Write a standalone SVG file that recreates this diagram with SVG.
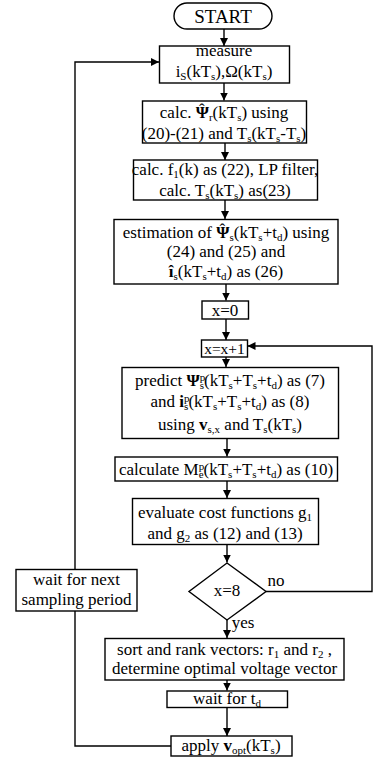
<svg xmlns="http://www.w3.org/2000/svg" width="373" height="762" viewBox="0 0 373 762">
<style>
.box{fill:#fff;stroke:#000;stroke-width:1.4}
.t{font-family:"Liberation Serif","DejaVu Serif",serif;font-size:17px;text-anchor:middle;fill:#000}
.s{font-size:11px}
.b{font-weight:bold}
.ln{fill:none;stroke:#000;stroke-width:1.4}
</style>
<defs>
<marker id="ah" viewBox="0 0 10 10" refX="10" refY="5" markerWidth="8" markerHeight="8" markerUnits="userSpaceOnUse" orient="auto">
<path d="M0,0 L10,5 L0,10 z" fill="#000"/>
</marker>
</defs>
<rect width="373" height="762" fill="#fff"/>
<g id="connectors">
<line class="ln" x1="224" y1="29" x2="224" y2="46" marker-end="url(#ah)"/>
<line class="ln" x1="224" y1="83" x2="224" y2="100.5" marker-end="url(#ah)"/>
<line class="ln" x1="225" y1="143" x2="225" y2="160" marker-end="url(#ah)"/>
<line class="ln" x1="225" y1="200" x2="225" y2="219" marker-end="url(#ah)"/>
<line class="ln" x1="226" y1="284" x2="226" y2="300.5" marker-end="url(#ah)"/>
<line class="ln" x1="226" y1="319" x2="226" y2="340" marker-end="url(#ah)"/>
<line class="ln" x1="226" y1="357" x2="226" y2="367" marker-end="url(#ah)"/>
<line class="ln" x1="227" y1="438" x2="227" y2="456.5" marker-end="url(#ah)"/>
<line class="ln" x1="227" y1="481" x2="227" y2="498" marker-end="url(#ah)"/>
<line class="ln" x1="227" y1="544" x2="227" y2="562.5" marker-end="url(#ah)"/>
<line class="ln" x1="227" y1="620" x2="227" y2="638" marker-end="url(#ah)"/>
<line class="ln" x1="227" y1="680" x2="227" y2="690.5" marker-end="url(#ah)"/>
<line class="ln" x1="227" y1="707" x2="227" y2="736" marker-end="url(#ah)"/>
<polyline class="ln" points="266,591.5 372,591.5 372,346 247.5,346" marker-end="url(#ah)"/>
<polyline class="ln" points="171,746 75,746 75,611"/>
<polyline class="ln" points="75,569 75,62 159,62" marker-end="url(#ah)"/>
<text class="t" x="276" y="586">no</text>
<text class="t" x="243" y="628">yes</text>
</g>
<g id="start">
<rect class="box" x="174" y="3" width="98" height="26" rx="13"/>
<text class="t" x="223" y="23" style="font-size:19px">START</text>
</g>
<g id="measure">
<rect class="box" x="159.5" y="46" width="130" height="37"/>
<text class="t" x="224" y="56">measure</text>
<text class="t" x="224" y="77">i<tspan class="s" dy="3">S</tspan><tspan dy="-3">(kT</tspan><tspan class="s" dy="3">s</tspan><tspan dy="-3">),Ω(kT</tspan><tspan class="s" dy="3">s</tspan><tspan dy="-3">)</tspan></text>
</g>
<g id="calcpsi">
<rect class="box" x="142.5" y="101" width="164" height="42"/>
<text class="t" x="224" y="118">calc. <tspan class="b">Ψ</tspan><tspan dx="-10" dy="-3">ˆ</tspan><tspan class="s" dx="4.3" dy="6">r</tspan><tspan dy="-3">(kT</tspan><tspan class="s" dy="3">s</tspan><tspan dy="-3">) using</tspan></text>
<text class="t" x="224" y="139">(20)-(21) and T<tspan class="s" dy="3">s</tspan><tspan dy="-3">(kT</tspan><tspan class="s" dy="3">s</tspan><tspan dy="-3">-T</tspan><tspan class="s" dy="3">s</tspan><tspan dy="-3">)</tspan></text>
</g>
<g id="calcf1">
<rect class="box" x="133.5" y="160" width="184" height="40"/>
<text class="t" x="225" y="175">calc. f<tspan class="s" dy="3">1</tspan><tspan dy="-3">(k) as (22), LP filter,</tspan></text>
<text class="t" x="225" y="196">calc. T<tspan class="s" dy="3">s</tspan><tspan dy="-3">(kT</tspan><tspan class="s" dy="3">s</tspan><tspan dy="-3">) as(23)</tspan></text>
</g>
<g id="estimation">
<rect class="box" x="114" y="219.5" width="224" height="64.5"/>
<text class="t" x="226" y="238">estimation of  <tspan class="b">Ψ</tspan><tspan dx="-10" dy="-3">ˆ</tspan><tspan class="s" dx="4.3" dy="6">s</tspan><tspan dy="-3">(kT</tspan><tspan class="s" dy="3">s</tspan><tspan dy="-3">+t</tspan><tspan class="s" dy="3">d</tspan><tspan dy="-3">) using</tspan></text>
<text class="t" x="226" y="257">(24) and (25) and</text>
<text class="t" x="226" y="277"><tspan class="b">î</tspan><tspan class="s" dy="3">s</tspan><tspan dy="-3">(kT</tspan><tspan class="s" dy="3">s</tspan><tspan dy="-3">+t</tspan><tspan class="s" dy="3">d</tspan><tspan dy="-3">) as (26)</tspan></text>
</g>
<g id="x0">
<rect class="box" x="202" y="301" width="46.5" height="18"/>
<text class="t" x="225" y="315.5">x=0</text>
</g>
<g id="xinc">
<rect class="box" x="201.5" y="340" width="46" height="17"/>
<text class="t" x="224.5" y="353.5" style="font-size:15.5px">x=x+1</text>
</g>
<g id="predict">
<rect class="box" x="122" y="367.5" width="216.5" height="71"/>
<text class="t" x="230" y="386">predict <tspan class="b">Ψ</tspan><tspan class="s" dy="-5">p</tspan><tspan class="s" dx="-5.5" dy="8">s</tspan><tspan dy="-3">(kT</tspan><tspan class="s" dy="3">s</tspan><tspan dy="-3">+T</tspan><tspan class="s" dy="3">s</tspan><tspan dy="-3">+t</tspan><tspan class="s" dy="3">d</tspan><tspan dy="-3">) as (7)</tspan></text>
<text class="t" x="230" y="407">and <tspan class="b">i</tspan><tspan class="s" dy="-5">p</tspan><tspan class="s" dx="-5.5" dy="8">s</tspan><tspan dy="-3">(kT</tspan><tspan class="s" dy="3">s</tspan><tspan dy="-3">+T</tspan><tspan class="s" dy="3">s</tspan><tspan dy="-3">+t</tspan><tspan class="s" dy="3">d</tspan><tspan dy="-3">) as (8)</tspan></text>
<text class="t" x="230" y="430">using <tspan class="b">v</tspan><tspan class="s" dy="3">s,x</tspan><tspan dy="-3"> and T</tspan><tspan class="s" dy="3">s</tspan><tspan dy="-3">(kT</tspan><tspan class="s" dy="3">s</tspan><tspan dy="-3">)</tspan></text>
</g>
<g id="calcm">
<rect class="box" x="115" y="457" width="222.5" height="24"/>
<text class="t" x="226" y="475">calculate M<tspan class="s" dy="-5">p</tspan><tspan class="s" dx="-5.5" dy="8">e</tspan><tspan dy="-3">(kT</tspan><tspan class="s" dy="3">s</tspan><tspan dy="-3">+T</tspan><tspan class="s" dy="3">s</tspan><tspan dy="-3">+t</tspan><tspan class="s" dy="3">d</tspan><tspan dy="-3">) as (10)</tspan></text>
</g>
<g id="evaluate">
<rect class="box" x="132.5" y="498.5" width="186" height="46"/>
<text class="t" x="225" y="518">evaluate cost functions g<tspan class="s" dy="3">1</tspan></text>
<text class="t" x="225" y="539">and g<tspan class="s" dy="3">2</tspan><tspan dy="-3"> as (12) and (13)</tspan></text>
</g>
<g id="decision">
<polygon class="box" points="227,563 266,591.5 227,620 189,591.5"/>
<text class="t" x="227" y="596">x=8</text>
</g>
<g id="waitnext">
<rect class="box" x="16" y="569.5" width="121" height="41.5"/>
<text class="t" x="76.5" y="585">wait for next</text>
<text class="t" x="76.5" y="605">sampling period</text>
</g>
<g id="sort">
<rect class="box" x="105" y="638.5" width="239" height="41.5"/>
<text class="t" x="224.5" y="655">sort and rank vectors: r<tspan class="s" dy="3">1</tspan><tspan dy="-3"> and r</tspan><tspan class="s" dy="3">2</tspan><tspan dy="-3"> ,</tspan></text>
<text class="t" x="224.5" y="674">determine optimal voltage vector</text>
</g>
<g id="waittd">
<rect class="box" x="167" y="691" width="120.5" height="16.5"/>
<text class="t" x="227" y="704">wait for t<tspan class="s" dy="3">d</tspan></text>
</g>
<g id="apply">
<rect class="box" x="171" y="736" width="121" height="20"/>
<text class="t" x="231" y="751">apply <tspan class="b">v</tspan><tspan class="s" dy="3">opt</tspan><tspan dy="-3">(kT</tspan><tspan class="s" dy="3">s</tspan><tspan dy="-3">)</tspan></text>
</g>
</svg>
